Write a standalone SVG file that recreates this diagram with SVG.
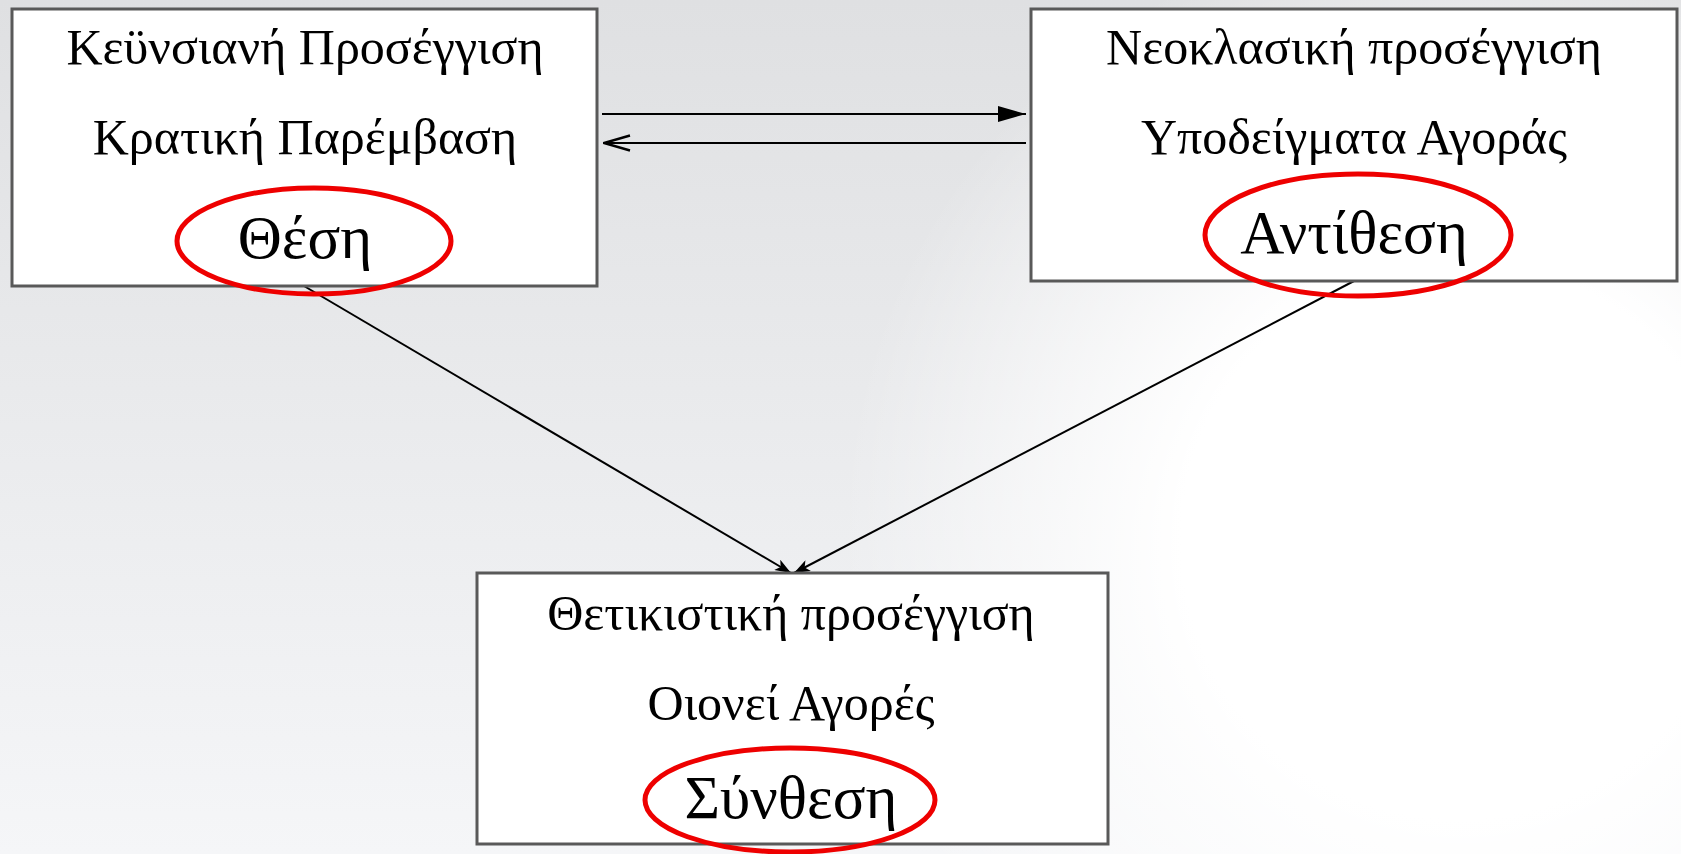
<svg xmlns="http://www.w3.org/2000/svg" width="1681" height="854" viewBox="0 0 1681 854">
  <defs>
    <linearGradient id="bgLinear" x1="0" y1="0" x2="0" y2="1">
      <stop offset="0" stop-color="#dfe0e2"/>
      <stop offset="1" stop-color="#f5f6f8"/>
    </linearGradient>
    <radialGradient id="bgGlow" cx="1460" cy="540" r="620" gradientUnits="userSpaceOnUse">
      <stop offset="0" stop-color="#ffffff" stop-opacity="1"/>
      <stop offset="0.45" stop-color="#ffffff" stop-opacity="1"/>
      <stop offset="1" stop-color="#ffffff" stop-opacity="0"/>
    </radialGradient>
    <marker id="headSolid" viewBox="0 0 28 16" refX="28" refY="8" markerWidth="28" markerHeight="16" markerUnits="userSpaceOnUse" orient="auto">
      <path d="M0,0 L28,8 L0,16 z" fill="#000"/>
    </marker>
    <marker id="headOpen" viewBox="0 0 28 18" refX="27" refY="9" markerWidth="28" markerHeight="18" markerUnits="userSpaceOnUse" orient="auto">
      <path d="M1,1.5 L27,9 L1,16.5" fill="none" stroke="#000" stroke-width="2.4"/>
    </marker>
    <marker id="headStealth" viewBox="0 0 16 12" refX="16" refY="6" markerWidth="16" markerHeight="12" markerUnits="userSpaceOnUse" orient="auto">
      <path d="M0,0 L16,6 L0,12 L4,6 z" fill="#000"/>
    </marker>
  </defs>
  <style>
    .box { fill: #ffffff; stroke: #595959; stroke-width: 3; }
    .ring { fill: none; stroke: #ee0000; stroke-width: 5; }
    .txt { font-family: "Liberation Serif", "DejaVu Serif", serif; font-size: 50px; fill: #000; text-anchor: middle; }
    .big { font-size: 61px; }
    .link { stroke: #000; fill: none; }
  </style>

  <!-- background -->
  <rect x="0" y="0" width="1681" height="854" fill="url(#bgLinear)"/>
  <rect x="0" y="0" width="1681" height="854" fill="url(#bgGlow)"/>

  <!-- connectors -->
  <g id="connectors">
    <line class="link" x1="602" y1="114" x2="1026" y2="114" stroke-width="2.2" marker-end="url(#headSolid)"/>
    <line class="link" x1="1026" y1="143" x2="604" y2="143" stroke-width="2.2" marker-end="url(#headOpen)"/>
    <line class="link" x1="304" y1="286" x2="791" y2="573" stroke-width="2" marker-end="url(#headStealth)"/>
    <line class="link" x1="1354" y1="281" x2="794" y2="573" stroke-width="2" marker-end="url(#headStealth)"/>
  </g>

  <!-- thesis -->
  <g id="thesis">
    <rect class="box" x="12" y="9" width="585" height="277"/>
    <text class="txt" x="305" y="64">Κεϋνσιανή Προσέγγιση</text>
    <text class="txt" x="305" y="154">Κρατική Παρέμβαση</text>
    <text class="txt big" x="305" y="258">Θέση</text>
    <ellipse class="ring" cx="314" cy="241" rx="137" ry="53"/>
  </g>

  <!-- antithesis -->
  <g id="antithesis">
    <rect class="box" x="1031" y="9" width="646" height="272"/>
    <text class="txt" x="1354" y="64">Νεοκλασική προσέγγιση</text>
    <text class="txt" x="1354" y="154">Υποδείγματα Αγοράς</text>
    <text class="txt big" x="1354" y="253">Αντίθεση</text>
    <ellipse class="ring" cx="1358" cy="235" rx="153" ry="61"/>
  </g>

  <!-- synthesis -->
  <g id="synthesis">
    <rect class="box" x="477" y="573" width="631" height="271"/>
    <text class="txt" x="791" y="630">Θετικιστική προσέγγιση</text>
    <text class="txt" x="791" y="720">Οιονεί Αγορές</text>
    <text class="txt big" x="791" y="818">Σύνθεση</text>
    <ellipse class="ring" cx="790" cy="800" rx="145" ry="52"/>
  </g>
</svg>
